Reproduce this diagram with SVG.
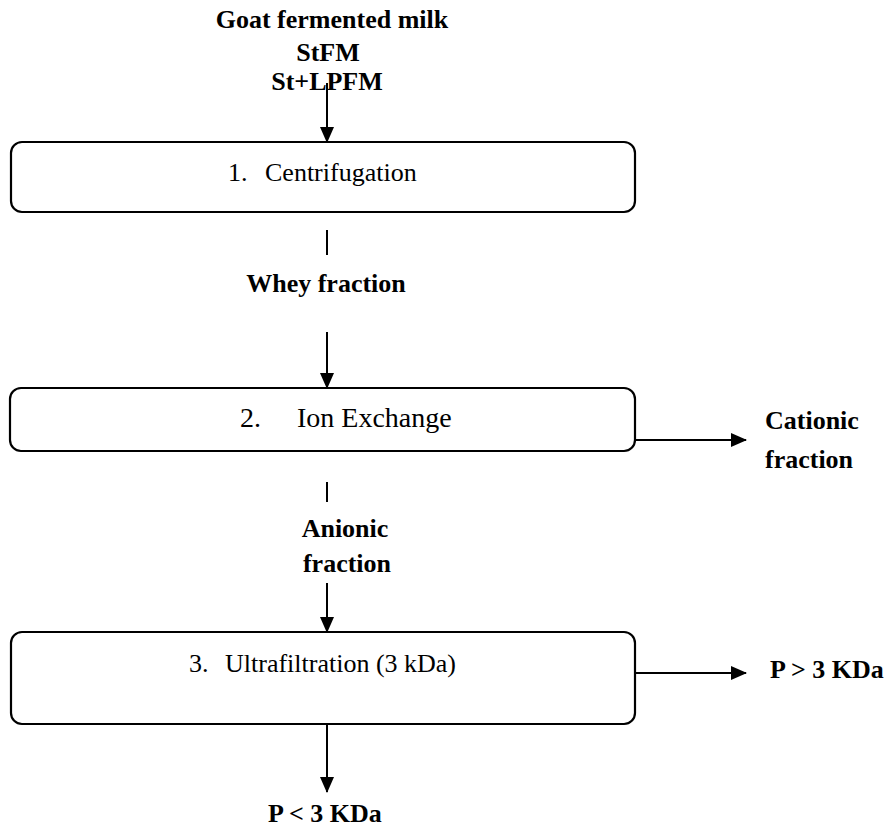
<svg xmlns="http://www.w3.org/2000/svg" width="891" height="827" viewBox="0 0 891 827">
<style>
.box{fill:#fff;stroke:#000;stroke-width:2.2}
.b{font-family:"Liberation Serif","Times New Roman",serif;font-weight:bold;font-size:26px;fill:#000}
.r{font-family:"Liberation Serif","Times New Roman",serif;font-size:26px;fill:#000}
.ln{stroke:#000;stroke-width:2;fill:none}
</style>
<defs>
<marker id="ah" markerWidth="16" markerHeight="14" refX="15" refY="7" orient="auto" markerUnits="userSpaceOnUse">
<path d="M0,0 L16,7 L0,14 Z" fill="#000"/>
</marker>
</defs>
<rect width="891" height="827" fill="#fff"/>
<g id="input">
<text class="b" x="332" y="28" text-anchor="middle">Goat fermented milk</text>
<text class="b" x="328" y="61" text-anchor="middle">StFM</text>
<text class="b" x="327" y="90" text-anchor="middle">St+LPFM</text>
</g>
<g id="step1">
<rect class="box" x="11" y="142" width="624" height="70" rx="11"/>
<text class="r" x="228" y="181">1.</text>
<text class="r" x="265" y="181">Centrifugation</text>
</g>
<g id="whey">
<text class="b" x="326" y="292" text-anchor="middle">Whey fraction</text>
</g>
<g id="step2">
<rect class="box" x="10" y="388" width="625" height="63" rx="11"/>
<text class="r" x="240" y="427" style="font-size:28px">2.</text>
<text class="r" x="297" y="427" style="font-size:28px">Ion Exchange</text>
</g>
<g id="cationic">
<text class="b" x="765" y="429">Cationic</text>
<text class="b" x="765" y="468">fraction</text>
</g>
<g id="anionic">
<text class="b" x="345" y="537" text-anchor="middle">Anionic</text>
<text class="b" x="347" y="572" text-anchor="middle">fraction</text>
</g>
<g id="step3">
<rect class="box" x="11" y="632" width="624" height="92" rx="11"/>
<text class="r" x="189" y="672">3.</text>
<text class="r" x="225" y="672">Ultrafiltration (3 kDa)</text>
</g>
<g id="pgt">
<text class="b" x="770" y="678">P &gt; 3 KDa</text>
</g>
<g id="plt">
<text class="b" x="325" y="822" text-anchor="middle">P &lt; 3 KDa</text>
</g>
<g id="connectors">
<line class="ln" x1="327" y1="83" x2="327" y2="142" marker-end="url(#ah)"/>
<line class="ln" x1="327" y1="230" x2="327" y2="255"/>
<line class="ln" x1="327" y1="332" x2="327" y2="388" marker-end="url(#ah)"/>
<line class="ln" x1="635" y1="440" x2="746" y2="440" marker-end="url(#ah)"/>
<line class="ln" x1="327" y1="482" x2="327" y2="502"/>
<line class="ln" x1="327" y1="583" x2="327" y2="632" marker-end="url(#ah)"/>
<line class="ln" x1="635" y1="673" x2="746" y2="673" marker-end="url(#ah)"/>
<line class="ln" x1="327" y1="724" x2="327" y2="792" marker-end="url(#ah)"/>
</g>
</svg>
